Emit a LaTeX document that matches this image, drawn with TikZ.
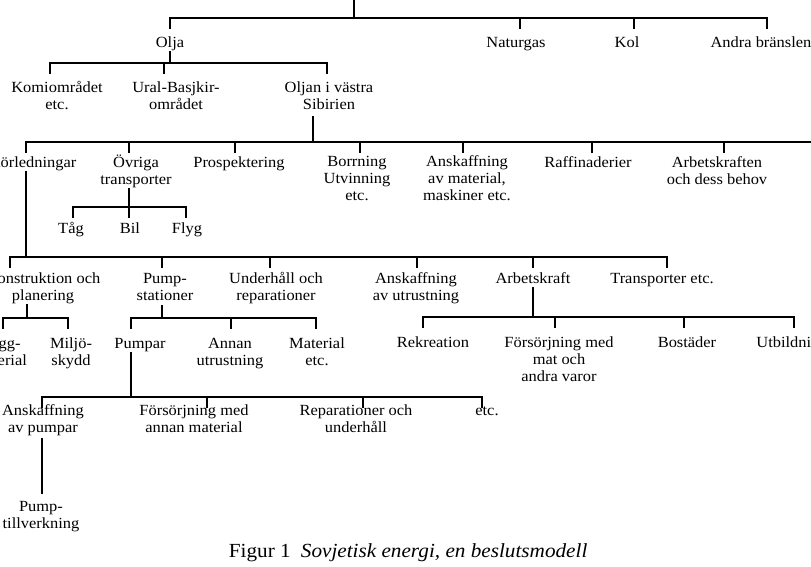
\documentclass[tikz,border=0pt]{standalone}
\usepackage{fontspec}
\setmainfont{Liberation Serif}[FakeStretch=1.06]
\usetikzlibrary{calc}
\tikzset{
  every node/.style={font=\fontsize{15.5}{16.7}\selectfont},
  lbl/.style={anchor=base, align=center, inner sep=1pt},
  figcap/.style={anchor=base west, inner sep=0pt, font=\fontsize{20}{22}\selectfont},
}

\begin{document}
\begin{tikzpicture}[x=1pt, y=-1pt, line width=1.8pt, line cap=rect]
        \useasboundingbox (0,0) rectangle (811,566);
        \clip (0,0) rectangle (811,566);

        % bränslen (base = sista radens baslinje)
        \node [lbl] (olja)     at (170,47) {Olja};
        \node [lbl] (naturgas) at (516,47) {Naturgas};
        \node [lbl] (kol)      at (627,47) {Kol};
        \node [lbl] (andra)    at (761,47) {Andra bränslen};
        \coordinate (topp) at (354,-3);
        \coordinate (b1l) at (170,18);
        \coordinate (b1r) at (767,18);
        \draw (topp) -- (topp |- b1l);
        \draw (b1l) -- (b1r);
        \foreach \n/\s in {olja/0, naturgas/4, kol/7, andra/6}
            \draw ([xshift=\s pt]\n |- b1l) -- ++(0,10);

        % oljeområden
        \node [lbl] (komi)  at (57,109)  {Komiområdet\\etc.};
        \node [lbl] (ural)  at (176,109) {Ural-Basjkir-\\området};
        \node [lbl] (oljan) at (329,109) {Oljan i västra\\Sibirien};
        \coordinate (b2l) at (50,63);
        \coordinate (b2r) at (327,63);
        \draw (olja.south) -- (olja.south |- b2l);
        \draw (b2l) -- (b2r);
        \foreach \n/\s in {komi/-7, ural/-12, oljan/-2}
            \draw ([xshift=\s pt]\n |- b2l) -- ++(0,10);

        % västra Sibirien
        \node [lbl] (ror)    at (33,167)  {Rörledningar};
        \node [lbl] (ovriga) at (136,184) {Övriga\\transporter};
        \node [lbl] (prosp)  at (239,167) {Prospektering};
        \node [lbl] (borr)   at (357,200) {Borrning\\Utvinning\\etc.};
        \node [lbl] (ansk)   at (467,200) {Anskaffning\\av material,\\maskiner etc.};
        \node [lbl] (raff)   at (588,167) {Raffinaderier};
        \node [lbl] (arbk)   at (717,184) {Arbetskraften\\och dess behov};
        \coordinate (b3l) at (26,142);
        \coordinate (b3r) at (815,142);
        \draw [shorten <=6pt] ([xshift=-16pt]oljan.south) -- ([xshift=-16pt]oljan.south |- b3l);
        \draw (b3l) -- (b3r);
        \foreach \n/\s in {ror/-7, ovriga/-7, prosp/-4, borr/3, ansk/-4, raff/4, arbk/7}
            \draw ([xshift=\s pt]\n |- b3l) -- ++(0,10);

        % övriga transporter
        \node [lbl] (tag)  at (71,233)  {Tåg};
        \node [lbl] (bil)  at (130,233) {Bil};
        \node [lbl] (flyg) at (187,233) {Flyg};
        \coordinate (b4l) at (73,207);
        \coordinate (b4r) at (186,207);
        \draw ([xshift=-7pt]ovriga.south) -- ([xshift=-7pt]ovriga.south |- b4l);
        \draw (b4l) -- (b4r);
        \foreach \n/\s in {tag/2, bil/-1, flyg/-1}
            \draw ([xshift=\s pt]\n |- b4l) -- ++(0,10);

        % rörledningar
        \node [lbl] (konstr)  at (43,300)  {Konstruktion och\\planering};
        \node [lbl] (pumpst)  at (165,300) {Pump-\\stationer};
        \node [lbl] (underh)  at (276,300) {Underhåll och\\reparationer};
        \node [lbl] (anskutr) at (416,300) {Anskaffning\\av utrustning};
        \node [lbl] (arbkr)   at (533,283) {Arbetskraft};
        \node [lbl] (transp)  at (662,283) {Transporter etc.};
        \coordinate (b5l) at (10,257);
        \coordinate (b5r) at (667,257);
        \draw ([xshift=-7pt]ror.south) -- ([xshift=-7pt]ror.south |- b5l);
        \draw (b5l) -- (b5r);
        \foreach \n/\s in {konstr/-33, pumpst/-3, underh/-6, anskutr/1, arbkr/0, transp/5}
            \draw ([xshift=\s pt]\n |- b5l) -- ++(0,10);

        % konstruktion
        \node [lbl] (bygg)  at (0,365)  {Bygg-\\material};
        \node [lbl] (miljo) at (71,365) {Miljö-\\skydd};
        \coordinate (b6l) at (3,318);
        \coordinate (b6r) at (68,318);
        \draw ([xshift=-16pt]konstr.south) -- ([xshift=-16pt]konstr.south |- b6l);
        \draw (b6l) -- (b6r);
        \foreach \n/\s in {bygg/3, miljo/-3}
            \draw ([xshift=\s pt]\n |- b6l) -- ++(0,10);

        % pumpstationer
        \node [lbl] (pumpar) at (140,348) {Pumpar};
        \node [lbl] (annan)  at (230,365) {Annan\\utrustning};
        \node [lbl] (mtrl)   at (317,365) {Material\\etc.};
        \coordinate (b7l) at (131,318);
        \coordinate (b7r) at (316,318);
        \draw [shorten <=4pt] ([xshift=-3pt]pumpst.south) -- ([xshift=-3pt]pumpst.south |- b7l);
        \draw (b7l) -- (b7r);
        \foreach \n/\s in {pumpar/-9, annan/1, mtrl/-1}
            \draw ([xshift=\s pt]\n |- b7l) -- ++(0,10);

        % arbetskraft
        \node [lbl] (rekr)    at (433,347) {Rekreation};
        \node [lbl] (forsmat) at (559,381) {Försörjning med\\mat och\\andra varor};
        \node [lbl] (bost)    at (687,347) {Bostäder};
        \node [lbl] (utb)     at (792,347) {Utbildning};
        \coordinate (b8l) at (423,317);
        \coordinate (b8r) at (794,317);
        \draw [shorten <=3pt] (arbkr.south) -- (arbkr.south |- b8l);
        \draw (b8l) -- (b8r);
        \foreach \n/\s in {rekr/-10, forsmat/-4, bost/-3, utb/2}
            \draw ([xshift=\s pt]\n |- b8l) -- ++(0,10);

        % pumpar
        \node [lbl] (anskp)   at (43,432)  {Anskaffning\\av pumpar};
        \node [lbl] (forsann) at (194,432) {Försörjning med\\annan material};
        \node [lbl] (repar)   at (356,432) {Reparationer och\\underhåll};
        \node [lbl] (etc)     at (487,415) {etc.};
        \coordinate (b9l) at (42,397);
        \coordinate (b9r) at (482,397);
        \draw ([xshift=-9pt]pumpar.south) -- ([xshift=-9pt]pumpar.south |- b9l);
        \draw (b9l) -- (b9r);
        \foreach \n/\s in {anskp/-1, forsann/13, repar/7, etc/-5}
            \draw ([xshift=\s pt]\n |- b9l) -- ++(0,10);

        \node [lbl] (pumptill) at (41,528) {Pump-\\tillverkning};
        \draw [shorten <=2pt, shorten >=6pt] ([xshift=-1pt]anskp.south) -- ([xshift=-1pt]anskp.south |- pumptill.north);

        % figurtext
        \node [figcap] (fig)     at (228,557) {Figur 1};
        \node [figcap] (figtext) at (300,557) {\itshape Sovjetisk energi, en beslutsmodell};
\end{tikzpicture}
\end{document}
